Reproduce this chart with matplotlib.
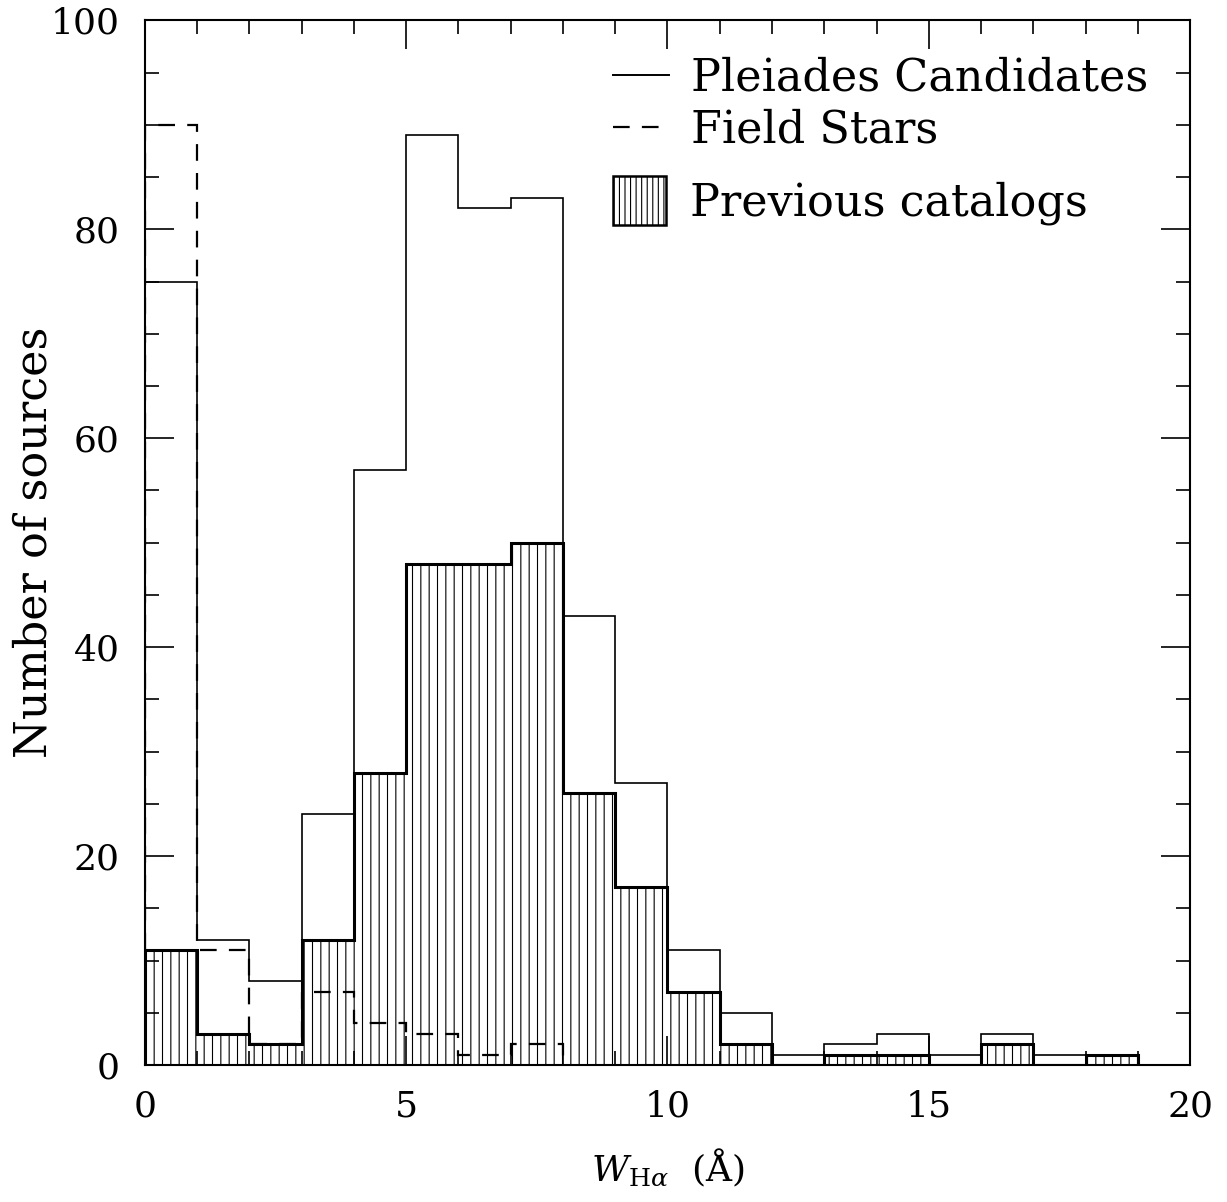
import numpy as np
import matplotlib.pyplot as plt
from matplotlib.lines import Line2D
from matplotlib.patches import Patch
from matplotlib.ticker import MultipleLocator

plt.rcParams['font.family'] = ['DejaVu Serif']
plt.rcParams['mathtext.fontset'] = 'dejavuserif'
plt.rcParams['hatch.linewidth'] = 0.8

# Hα equivalent width bins (Å), 1 Å wide
edges = np.arange(0, 20)
# counts per bin
pleiades = [75, 12, 8, 24, 57, 89, 82, 83, 43, 27, 11, 5, 1, 2, 3, 1, 3, 1, 1]
previous = [11, 3, 2, 12, 28, 48, 48, 50, 26, 17, 7, 2, 0, 1, 1, 0, 2, 0, 1]
field = [90, 11, 2, 7, 4, 3, 1, 2]

dash = (0, (7.5, 5.5))

fig = plt.figure(figsize=(12.27, 12.02), dpi=100)
ax = fig.add_axes([0.118, 0.114, 0.852, 0.869])

# previously catalogued members: hatched histogram with a heavier outline
ax.stairs(previous, edges, fill=True, facecolor='white', edgecolor='black',
          hatch='||', linewidth=0, zorder=1)
ax.stairs(previous, edges, color='black', linewidth=2.2, zorder=2)
# all candidates
ax.stairs(pleiades, edges, color='black', linewidth=1.2, zorder=3)
# field stars
ax.stairs(field, np.arange(0, len(field) + 1), color='black', linewidth=1.6,
          linestyle=dash, zorder=3)

ax.set_xlim(0, 20)
ax.set_ylim(0, 100)
ax.xaxis.set_major_locator(MultipleLocator(5))
ax.xaxis.set_minor_locator(MultipleLocator(1))
ax.yaxis.set_major_locator(MultipleLocator(20))
ax.yaxis.set_minor_locator(MultipleLocator(5))
ax.tick_params(which='both', direction='in', top=True, right=True, width=1.2,
               labelsize=26)
ax.tick_params(which='major', length=21, pad=18)
ax.tick_params(which='minor', length=10)
for s in ax.spines.values():
    s.set_linewidth(1.5)

ax.set_xlabel(r'$W_{\mathrm{H}\alpha}$  (Å)', fontsize=26, labelpad=16)
ax.set_ylabel('Number of sources', fontsize=32, va='center')
ax.yaxis.set_label_coords(-0.106, 0.5)

# legend: the two line styles, then the hatched box a bit lower
leg1 = ax.legend([Line2D([], [], color='black', linewidth=1.4),
                  Line2D([], [], color='black', linewidth=1.6, linestyle=dash)],
                 ['Pleiades Candidates', 'Field Stars'],
                 loc='upper left', bbox_to_anchor=(0.448, 0.966), frameon=False,
                 fontsize=32, handlelength=1.25, handletextpad=0.5,
                 labelspacing=0.2, borderpad=0, borderaxespad=0)
ax.add_artist(leg1)
ax.legend([Patch(facecolor='white', edgecolor='black', hatch='|||', linewidth=1.8)],
          ['Previous catalogs'],
          loc='upper left', bbox_to_anchor=(0.448, 0.851), frameon=False,
          fontsize=32, handlelength=1.18, handleheight=1.3, handletextpad=0.55,
          borderpad=0, borderaxespad=0)

fig.savefig('out.png', dpi=100)
